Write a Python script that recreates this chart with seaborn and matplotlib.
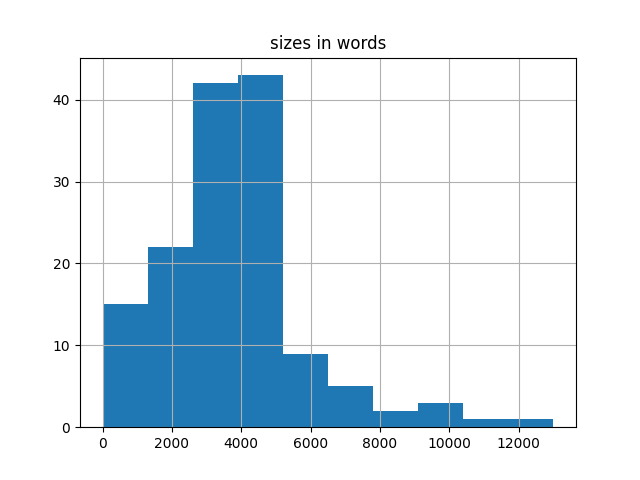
import numpy as np
import pandas as pd
import matplotlib
matplotlib.use("Agg")
import matplotlib.pyplot as plt
import seaborn as sns

# Histogram: 10 equal bins from 0 to 13000 words
bin_edges = [0, 1300, 2600, 3900, 5200, 6500, 7800, 9100, 10400, 11700, 13000]
counts = [15, 22, 42, 43, 9, 5, 2, 3, 1, 1]

centers = [(a + b) / 2 for a, b in zip(bin_edges[:-1], bin_edges[1:])]
df = pd.DataFrame({"words": centers, "n": counts})

fig, ax = plt.subplots(figsize=(6.4, 4.8), dpi=100)
sns.histplot(data=df, x="words", weights="n", bins=bin_edges, ax=ax,
             color="#1f77b4", alpha=1, linewidth=0)
ax.grid(True)
ax.set_title("sizes in words")
ax.set_xlabel("")
ax.set_ylabel("")

plt.savefig("out.png", dpi=100)
plt.close()
